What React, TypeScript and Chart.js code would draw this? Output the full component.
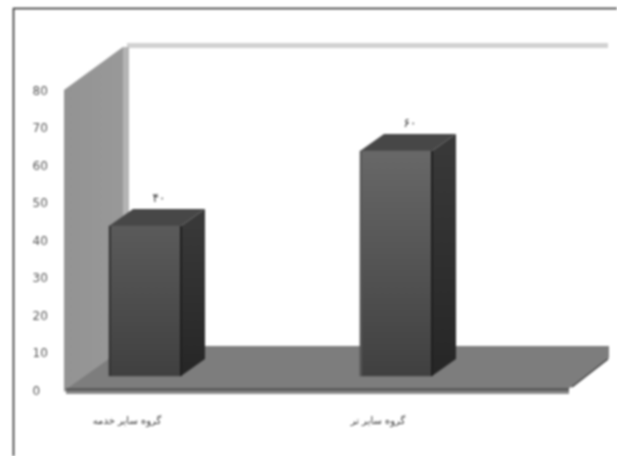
import React, { useEffect, useRef } from "react";
import { Chart, registerables } from "chart.js";

Chart.register(...registerables);

const categories = ["گروه سایر خدمه", "گروه سایر تر"];
const values = [40, 60];
const valueLabels = ["۴۰", "۶۰"];
const FONT = '"DejaVu Sans", sans-serif';

const scene3d = {
  id: "scene3d",
  beforeDatasetsDraw(chart: any) {
    const c = chart.ctx;
    const poly = (pts: number[][], fill: any) => {
      c.beginPath();
      pts.forEach((p, i) => (i ? c.lineTo(p[0], p[1]) : c.moveTo(p[0], p[1])));
      c.closePath();
      c.fillStyle = fill;
      c.fill();
    };
    c.save();
    // frame
    c.strokeStyle = "#222";
    c.lineWidth = 1.5;
    c.beginPath();
    c.moveTo(13.5, 456);
    c.lineTo(13.5, 8.5);
    c.lineTo(617, 8.5);
    c.stroke();
    // back wall top strip
    c.fillStyle = "#d2d2d2";
    c.fillRect(127, 43, 481, 5);
    // side wall
    const wall = c.createLinearGradient(64, 0, 125, 0);
    wall.addColorStop(0, "#939393");
    wall.addColorStop(1, "#999999");
    poly([[64, 90], [123, 47], [123, 350], [64, 392]], wall);
    c.fillStyle = "#b4b4b4";
    c.fillRect(123, 47, 6, 300);
    // floor
    poly([[68, 388], [127, 346], [609, 346], [609, 358], [570, 388]], "#7d7d7d");
    c.fillStyle = "#5c5c5c";
    c.fillRect(66, 388, 503, 3);
    c.fillStyle = "#8c8c8c";
    c.fillRect(66, 391, 503, 3);
    c.strokeStyle = "#3a3a3a";
    c.lineWidth = 1.5;
    c.beginPath();
    c.moveTo(572, 387);
    c.lineTo(608, 359);
    c.stroke();
    // bar sides and tops
    const meta = chart.getDatasetMeta(0);
    meta.data.forEach((bar: any) => {
      const l = bar.x - bar.width / 2;
      const r = bar.x + bar.width / 2;
      const dx = 24;
      const dy = 17;
      const side = c.createLinearGradient(0, bar.y, 0, bar.base);
      side.addColorStop(0, "#383838");
      side.addColorStop(1, "#262626");
      poly([[r, bar.y], [r + dx, bar.y - dy], [r + dx, bar.base - dy], [r, bar.base]], side);
      poly([[l, bar.y], [l + dx, bar.y - dy], [r + dx, bar.y - dy], [r, bar.y]], "#474747");
    });
    c.restore();
  },
  afterDatasetsDraw(chart: any) {
    const c = chart.ctx;
    const meta = chart.getDatasetMeta(0);
    c.save();
    meta.data.forEach((bar: any, i: number) => {
      const l = bar.x - bar.width / 2;
      const r = bar.x + bar.width / 2;
      c.strokeStyle = "#1e1e1e";
      c.lineWidth = 2;
      c.beginPath();
      c.moveTo(r, bar.y);
      c.lineTo(r, bar.base);
      c.stroke();
      c.strokeStyle = i === 0 ? "#333" : "#555";
      c.beginPath();
      c.moveTo(l + 1, bar.y);
      c.lineTo(l + 1, bar.base);
      c.stroke();
      c.fillStyle = "#333";
      c.font = `12px ${FONT}`;
      c.textAlign = "center";
      c.textBaseline = "middle";
      c.fillText(valueLabels[i], bar.x + 14, bar.y - 27);
    });
    c.restore();
  },
};

export default function App() {
  const ref = useRef<HTMLCanvasElement>(null);
  useEffect(() => {
    const chart = new Chart(ref.current as HTMLCanvasElement, {
      type: "bar",
      data: {
        labels: categories,
        datasets: [
          {
            data: values,
            yAxisID: "bars",
            barThickness: 72,
            borderWidth: 0,
            backgroundColor: (ctx: any) => {
              const g = ctx.chart.ctx.createLinearGradient(0, 150, 0, 376);
              g.addColorStop(0, "#686868");
              g.addColorStop(1, "#404040");
              return g;
            },
          },
        ],
      },
      options: {
        animation: false,
        responsive: false,
        layout: { padding: { left: 19.5, right: 95.5, top: 91.5, bottom: 0 } },
        plugins: { legend: { display: false }, tooltip: { enabled: false } },
        scales: {
          x: {
            grid: { display: false },
            border: { display: false },
            afterFit: (s: any) => {
              s.height = 64.5;
            },
            ticks: {
              color: "#333",
              padding: 16,
              labelOffset: -18,
              maxRotation: 0,
              font: { family: FONT, size: 10 },
            },
          },
          y: {
            position: "left",
            min: 0,
            max: 80,
            grid: { display: false },
            border: { display: false },
            afterFit: (s: any) => {
              s.width = 0;
            },
            ticks: {
              stepSize: 10,
              mirror: true,
              padding: 13,
              color: "#555",
              font: { family: FONT, size: 12 },
            },
          },
          bars: {
            display: false,
            min: -4.13,
            max: 75.87,
          },
        },
      } as any,
      plugins: [scene3d],
    });
    return () => chart.destroy();
  }, []);
  return (
    <div style={{ position: "fixed", left: 0, top: 0, width: 617, height: 456, background: "#fff" }}>
      <canvas
        ref={ref}
        width={617}
        height={456}
        style={{ display: "block", width: 617, height: 456, filter: "blur(0.9px)" }}
      />
    </div>
  );
}
